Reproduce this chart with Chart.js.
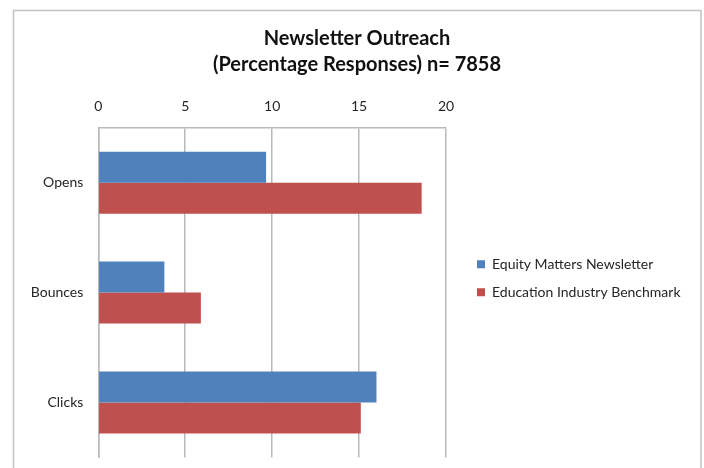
<!DOCTYPE html>
<html>
<head>
<meta charset="utf-8">
<script src="https://cdn.jsdelivr.net/npm/chart.js@4/dist/chart.umd.min.js"></script>
<style>
  html, body { margin: 0; padding: 0; background: #ffffff; }
  #wrap { width: 704px; height: 468px; }
</style>
</head>
<body>
<div id="wrap"><canvas id="chart" width="704" height="468"></canvas></div>
<script>
// Chart content
const titleLines = ['Newsletter Outreach', '(Percentage Responses) n= 7858'];
const categories = ['Opens', 'Bounces', 'Clicks'];
const seriesNames = ['Equity Matters Newsletter', 'Education Industry Benchmark'];
const newsletterValues = [9.65, 3.8, 16.0];
const benchmarkValues = [18.6, 5.9, 15.1];
const tickValues = [0, 5, 10, 15, 20];

const FONT = "'Lato', 'Open Sans', 'Liberation Sans', sans-serif";
const GRID = '#b9b9b9';

// Light grey frame around the whole chart
const framePlugin = {
  id: 'frame',
  beforeDraw(chart) {
    const ctx = chart.ctx;
    ctx.save();
    ctx.fillStyle = '#ffffff';
    ctx.fillRect(0, 0, chart.width, chart.height);
    ctx.strokeStyle = '#c2c2c2';
    ctx.lineWidth = 1.5;
    ctx.strokeRect(13.5, 10.5, 687.5, 480);
    ctx.restore();
  }
};

// Place the title across the full frame and the legend to the right of the plot
const placementPlugin = {
  id: 'placement',
  afterLayout(chart) {
    const t = chart.titleBlock;
    if (t) { t.left = 10; t.right = 704; t.width = 694; }
    const lg = chart.legend;
    if (lg) {
      const pad = lg.options.labels.padding;
      const size = lg.options.labels.font.size;
      const w = lg.width, h = lg.height;
      lg.left = 477 - pad; lg.right = lg.left + w;
      lg.top = 264.3 - pad - size / 2; lg.bottom = lg.top + h;
    }
  }
};

new Chart(document.getElementById('chart'), {
  type: 'bar',
  data: {
    labels: categories,
    datasets: [
      { label: seriesNames[0], data: newsletterValues, backgroundColor: '#4F81BD', borderWidth: 0 },
      { label: seriesNames[1], data: benchmarkValues, backgroundColor: '#C0504D', borderWidth: 0 }
    ]
  },
  options: {
    indexAxis: 'y',
    responsive: false,
    animation: false,
    devicePixelRatio: 1,
    layout: { padding: { left: 0, right: 258, top: 0, bottom: 10.5 } },
    datasets: { bar: { barPercentage: 1, categoryPercentage: 0.5636 } },
    scales: {
      x: {
        position: 'top',
        min: 0,
        max: 20,
        afterBuildTicks(scale) { scale.ticks = tickValues.map(v => ({ value: v })); },
        afterFit(scale) { scale.height = 49.5; },
        grid: { color: GRID, lineWidth: 1.5, drawTicks: false },
        border: { display: true, color: GRID, width: 1.5 },
        ticks: { padding: 12.6, color: '#262626', font: { family: FONT, size: 14 } }
      },
      y: {
        afterFit(scale) {
          scale.width = 98.3;
          scale.paddingTop = 0;
          scale.paddingBottom = 0;
        },
        grid: { display: false, drawTicks: false },
        border: { display: true, color: GRID, width: 1.5 },
        ticks: { padding: 15, color: '#262626', font: { family: FONT, size: 14 } }
      }
    },
    plugins: {
      title: {
        display: true,
        text: titleLines,
        color: '#111111',
        font: { family: FONT, size: 20, weight: 'bold', lineHeight: 1.33 },
        padding: { top: 25, bottom: 0 }
      },
      legend: {
        display: true,
        position: 'chartArea',
        align: 'start',
        labels: {
          boxWidth: 8,
          boxHeight: 8,
          padding: 14,
          color: '#262626',
          font: { family: FONT, size: 14 }
        }
      },
      tooltip: { enabled: false }
    }
  },
  plugins: [framePlugin, placementPlugin]
});
</script>
</body>
</html>
